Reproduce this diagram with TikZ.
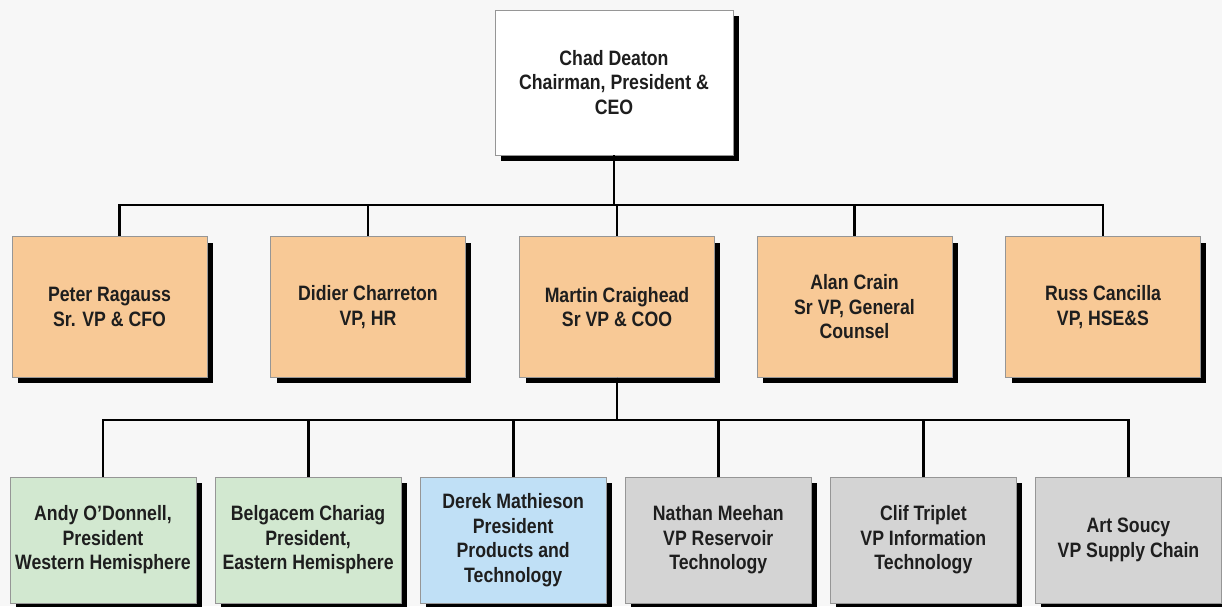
\documentclass[tikz,border=0pt]{standalone}
\usepackage{fontspec}
\setmainfont{Liberation Sans}[FakeStretch=0.85]
\usepackage{xcolor}
\usetikzlibrary{positioning, shadows}
\definecolor{bgcol}{RGB}{247,247,247}
\definecolor{edgecol}{RGB}{150,150,150}
\definecolor{textcol}{RGB}{30,30,30}
\definecolor{staffcol}{RGB}{248,201,150}
\definecolor{greencol}{RGB}{210,232,208}
\definecolor{bluecol}{RGB}{192,224,246}
\definecolor{greycol}{RGB}{212,212,212}

\begin{document}
\begin{tikzpicture}[
  x=0.025cm, y=-0.025cm,
  orgbox/.style   = {rectangle, draw=edgecol, line width=0.6pt, align=center,
                     inner sep=2pt, text=textcol,
                     font=\fontsize{14.8}{17.4}\selectfont\bfseries,
                     drop shadow={shadow xshift=0.15cm, shadow yshift=-0.15cm,
                                  fill=black, opacity=1}},
  ceobox/.style   = {orgbox, fill=white, minimum width=5.95cm, minimum height=3.62cm},
  staffbox/.style = {orgbox, fill=staffcol, minimum width=4.87cm, minimum height=3.52cm},
  unitbox/.style  = {orgbox, minimum width=4.65cm, minimum height=3.15cm},
  greenbox/.style = {unitbox, fill=greencol},
  bluebox/.style  = {unitbox, fill=bluecol},
  greybox/.style  = {unitbox, fill=greycol},
  link/.style     = {line width=2.1pt, color=black},
  node distance   = 0.455cm,
]
\fill[bgcol] (0,0) rectangle (1222,606);
\useasboundingbox (0,0) rectangle (1222,606);

%% --- Top ---
\node[ceobox] (ceo) at (614,82.5) {Chad Deaton\\Chairman, President \&\\CEO};

%% --- Row 2: staff ---
\node[staffbox] (cfo)  at (109.5,307) {Peter Ragauss\\Sr. VP \& CFO};
\node[staffbox] (hr)   at (368,307)   {Didier Charreton\\VP, HR};
\node[staffbox] (coo)  at (617,307)   {Martin Craighead\\Sr VP \& COO};
\node[staffbox] (gc)   at (854.5,307) {Alan Crain\\Sr VP, General\\Counsel};
\node[staffbox] (hse)  at (1103,307)  {Russ Cancilla\\VP, HSE\&S};

%% --- Row 3: units ---
\node[greenbox] (west) at (103,540)    {Andy O'Donnell,\\President\\Western Hemisphere};
\node[greenbox, right=of west] (east)  {Belgacem Chariag\\President,\\Eastern Hemisphere};
\node[bluebox,  right=of east] (prod)  {Derek Mathieson\\President\\Products and\\Technology};
\node[greybox,  right=of prod] (res)   {Nathan Meehan\\VP Reservoir\\Technology};
\node[greybox,  right=of res]  (info)  {Clif Triplet\\VP Information\\Technology};
\node[greybox,  right=of info] (supp)  {Art Soucy\\VP Supply Chain};

%% --- Buses ---
\coordinate (bus1) at (614,205);
\coordinate (bus2) at (617,420);
\coordinate (cfotop) at ([xshift=0.26cm]cfo.north);

%% --- Connectors top -> row 2 ---
\draw[link] (ceo.south) |- (bus1 -| cfotop) -- (cfotop);
\foreach \n in {hr, coo, gc, hse}
  \draw[link] (ceo.south) |- (bus1 -| \n.north) -- (\n.north);

%% --- Connectors COO -> row 3 ---
\foreach \n in {west, east, prod, res, info, supp}
  \draw[link] (coo.south) |- (bus2 -| \n.north) -- (\n.north);

\end{tikzpicture}
\end{document}
